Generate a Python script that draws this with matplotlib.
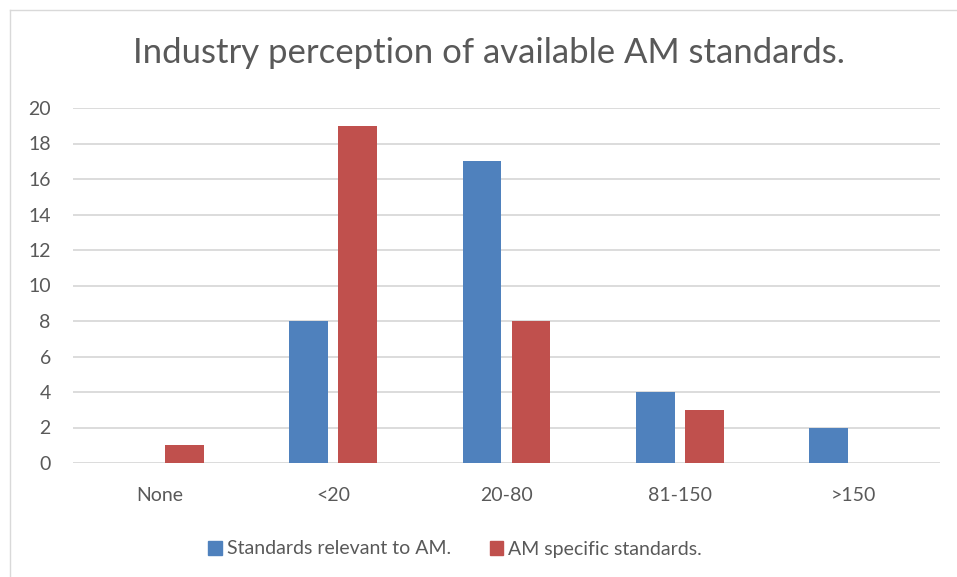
import matplotlib
matplotlib.use("Agg")
import matplotlib.pyplot as plt
import numpy as np
from matplotlib.patches import Patch

categories = ["None", "<20", "20-80", "81-150", ">150"]
relevant = [0, 8, 17, 4, 2]
specific = [1, 19, 8, 3, 0]
series_names = ["Standards relevant to AM.", "AM specific standards."]
title = "Industry perception of available AM standards."

plt.rcParams['font.family'] = ['Lato', 'DejaVu Sans']
grey = "#595959"
blue = "#4F81BD"
red = "#C0504D"

fig = plt.figure(figsize=(9.57, 5.77), dpi=100)
ax = fig.add_axes([73/957, 1-463/577, (940-73)/957, (463-108)/577])

x = np.arange(len(categories))
w = 0.222
ax.bar(x - 0.142, relevant, width=w, color=blue, label=series_names[0], zorder=3)
ax.bar(x + 0.142, specific, width=w, color=red, label=series_names[1], zorder=3)

ax.set_xlim(-0.5, 4.5)
ax.set_ylim(0, 20)
ax.set_yticks(range(0, 21, 2))
ax.set_xticks(x)
ax.set_xticklabels(categories)
ax.yaxis.grid(True, color="#D9D9D9", linewidth=1.3, zorder=0)
ax.set_axisbelow(True)
for s in ax.spines.values():
    s.set_visible(False)
ax.tick_params(axis='both', length=0, labelsize=14, colors=grey)
ax.tick_params(axis='y', pad=16)
ax.tick_params(axis='x', pad=17)

fig.text(489/957, 1-53/577, title, ha='center', va='center', fontsize=25, color=grey)

handles = [Patch(color=blue), Patch(color=red)]
leg = fig.legend(handles, series_names, loc='center', bbox_to_anchor=(455/957, 1-549/577),
                 ncol=2, frameon=False, fontsize=14, handlelength=0.7, handleheight=0.7,
                 handletextpad=0.25, columnspacing=2.0, labelcolor=grey)

# border lines (top and left)
fig.add_artist(plt.Line2D([10/957, 1], [1-10/577, 1-10/577], color="#D9D9D9", linewidth=1, transform=fig.transFigure))
fig.add_artist(plt.Line2D([10/957, 10/957], [0, 1-10/577], color="#D9D9D9", linewidth=1, transform=fig.transFigure))

fig.savefig("out.png", dpi=100)
